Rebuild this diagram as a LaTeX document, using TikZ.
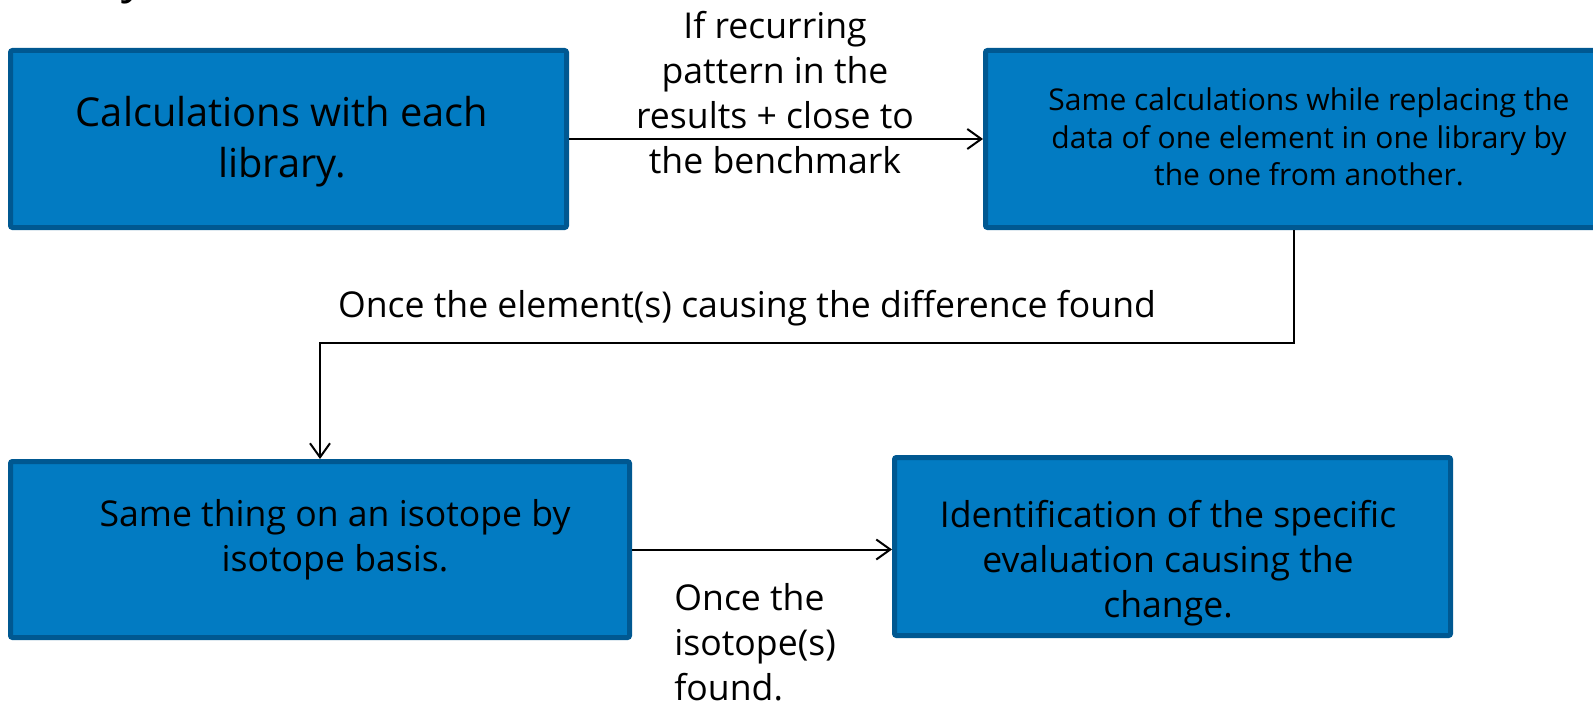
\documentclass[tikz,border=0pt]{standalone}
\usepackage{fontspec}
\setmainfont{Open Sans}
\usetikzlibrary{arrows.meta}
\definecolor{boxfill}{RGB}{2,123,194}
\definecolor{boxedge}{RGB}{0,88,145}
\begin{document}
\begin{tikzpicture}[x=0.5pt,y=-0.5pt,
  box/.style={draw=boxedge, fill=boxfill, line width=2.5pt, inner sep=0pt, rounded corners=1pt},
  conn/.style={line width=1pt, -{Straight Barb[length=7pt,width=10pt,line width=1pt]}},
  lbl/.style={inner sep=0pt, align=center, text=black},
  fsmain/.style={font=\fontsize{17.8}{22.5}\selectfont},
  fsbig/.style={font=\fontsize{19.9}{25.5}\selectfont},
  fssmall/.style={font=\fontsize{15}{18.75}\selectfont}]
\useasboundingbox (0,0) rectangle (1593,701);
\begin{scope}
\clip (0,0) rectangle (1593,701);
\node[font=\fontsize{24}{28}\selectfont\itshape, anchor=base, inner sep=0pt] (frag) at (138,-7) {y};
\node[box, minimum width=278pt, minimum height=88.5pt] (b1) at (288.5,139) {};
\node[box, minimum width=323.5pt, minimum height=88.5pt] (b2) at (1309,139) {};
\node[box, minimum width=309.5pt, minimum height=88pt] (b3) at (320,549.5) {};
\node[box, minimum width=278pt, minimum height=89pt] (b4) at (1172.5,546.5) {};
\node[lbl, fsbig] (t1) at (282,142) {Calculations with each\\library.};
\node[lbl, fssmall] (t2) at (1309,137) {Same calculations while replacing the\\data of one element in one library by\\the one from another.};
\node[lbl, fsmain] (t3) at (335,540) {Same thing on an isotope by\\isotope basis.};
\node[lbl, fsmain] (t4) at (1168,563) {Identification of the specific\\evaluation causing the\\change.};
\coordinate (turn) at (320,343);
\draw[conn] (b1.east) -- (b2.west);
\draw[conn] ([xshift=-7.5pt]b2.south) |- (turn) -- (b3.north);
\draw[conn] (b3.east) -- (b3.east -| b4.west);
\node[lbl, fsmain] (l1) at (775,93) {If recurring\\pattern in the\\results + close to\\the benchmark};
\node[lbl, fsmain] (l2) at (747,308) {Once the element(s) causing the difference found};
\node[lbl, fsmain, align=left, anchor=west] (l3) at (674,642) {Once the\\isotope(s)\\found.};
\end{scope}
\end{tikzpicture}
\end{document}
